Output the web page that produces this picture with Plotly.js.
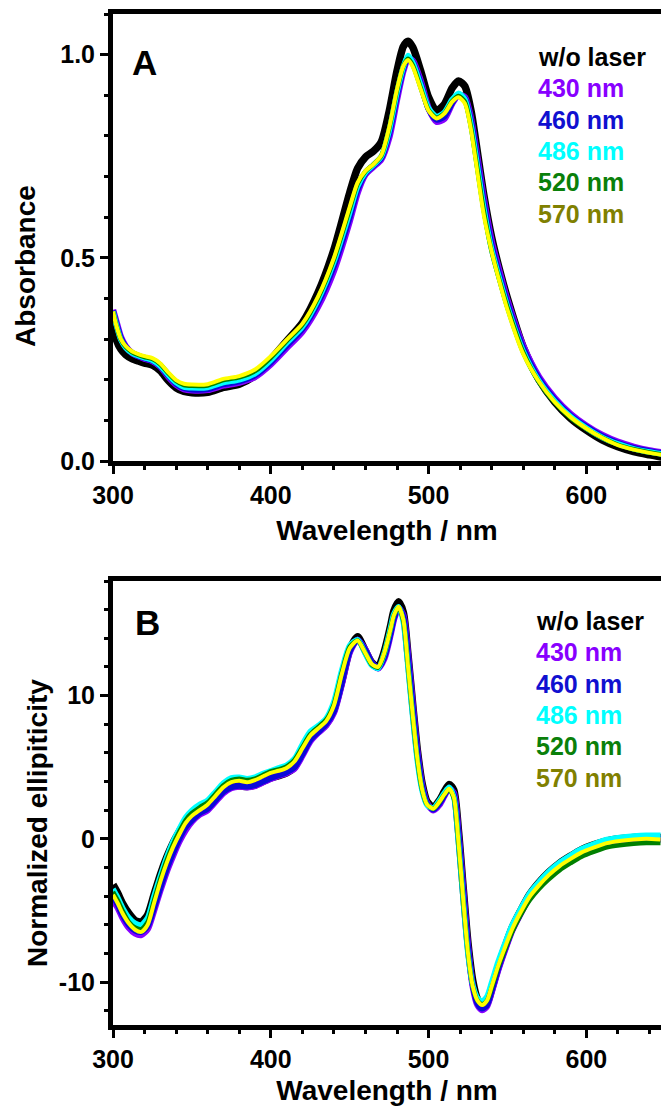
<!DOCTYPE html>
<html><head><meta charset="utf-8">
<script src="https://cdn.plot.ly/plotly-3.0.1.min.js"></script>
<style>html,body{margin:0;padding:0;background:#fff}#chart{width:661px;height:1106px}</style>
</head><body><div id="chart"></div>
<script>
// ---------- series labels / colours ----------
const seriesNames = ['w/o laser', '430 nm', '460 nm', '486 nm', '520 nm', '570 nm'];
const lineColors  = ['#000000', '#8800FF', '#0A0AD8', '#00FFFF', '#008000', '#FFFF00'];
const labelColors = ['#000000', '#8800FF', '#1010D0', '#00FFFF', '#0A800A', '#808000'];

// ---------- panel A : absorbance ----------
const wavelengthA = [300,302,305,308,312,316,320,325,330,335,
  340,345,350,360,370,380,390,400,410,420,
  430,440,450,455,460,465,470,475,480,484,
  487,490,495,500,505,510,515,519,523,527,
  530,535,540,545,550,560,570,580,590,600,
  610,620,630,640,650];
const absWo = [0.340,0.300,0.275,0.262,0.252,0.246,0.241,0.236,0.222,0.198,
  0.180,0.171,0.168,0.169,0.181,0.189,0.210,0.250,0.295,0.340,
  0.415,0.520,0.660,0.720,0.748,0.762,0.785,0.860,0.960,1.020,
  1.033,1.018,0.960,0.895,0.862,0.878,0.918,0.935,0.922,0.860,
  0.785,0.655,0.550,0.470,0.400,0.280,0.200,0.145,0.105,0.076,
  0.052,0.035,0.023,0.015,0.008];
const abs430 = [0.372,0.345,0.305,0.283,0.266,0.258,0.252,0.246,0.232,0.208,
  0.188,0.177,0.174,0.175,0.186,0.193,0.207,0.238,0.278,0.318,
  0.380,0.468,0.590,0.660,0.705,0.724,0.742,0.795,0.890,0.960,
  0.990,0.985,0.935,0.868,0.835,0.842,0.880,0.900,0.895,0.840,
  0.770,0.645,0.540,0.465,0.395,0.283,0.207,0.155,0.116,0.087,
  0.064,0.047,0.035,0.026,0.020];
const abs460 = [0.370,0.340,0.302,0.281,0.266,0.258,0.253,0.247,0.233,0.210,
  0.190,0.179,0.176,0.177,0.189,0.196,0.211,0.243,0.284,0.325,
  0.390,0.480,0.600,0.668,0.708,0.727,0.746,0.805,0.900,0.965,
  0.992,0.982,0.930,0.866,0.840,0.848,0.882,0.902,0.892,0.835,
  0.762,0.635,0.530,0.456,0.388,0.277,0.202,0.151,0.112,0.084,
  0.061,0.044,0.032,0.024,0.018];
const abs486 = [0.368,0.336,0.298,0.279,0.266,0.259,0.254,0.248,0.234,0.212,
  0.193,0.182,0.180,0.181,0.193,0.200,0.215,0.248,0.290,0.330,
  0.397,0.490,0.612,0.676,0.710,0.728,0.749,0.812,0.908,0.970,
  0.998,0.980,0.925,0.868,0.848,0.858,0.890,0.905,0.890,0.825,
  0.750,0.622,0.520,0.448,0.380,0.270,0.197,0.147,0.109,0.081,
  0.058,0.042,0.030,0.022,0.016];
const abs520 = [0.368,0.335,0.299,0.281,0.268,0.261,0.256,0.251,0.238,0.216,
  0.197,0.187,0.185,0.186,0.199,0.206,0.221,0.254,0.295,0.335,
  0.402,0.496,0.620,0.682,0.713,0.730,0.751,0.818,0.913,0.972,
  0.990,0.974,0.918,0.864,0.845,0.856,0.886,0.898,0.884,0.818,
  0.742,0.615,0.515,0.443,0.377,0.267,0.194,0.144,0.106,0.079,
  0.057,0.040,0.029,0.021,0.015];
const abs570 = [0.368,0.335,0.300,0.283,0.270,0.263,0.258,0.253,0.240,0.218,
  0.199,0.190,0.188,0.189,0.202,0.209,0.225,0.258,0.298,0.338,
  0.405,0.500,0.625,0.685,0.714,0.730,0.752,0.820,0.915,0.972,
  0.987,0.970,0.915,0.862,0.843,0.855,0.884,0.895,0.880,0.812,
  0.735,0.605,0.515,0.440,0.372,0.263,0.195,0.145,0.108,0.080,
  0.057,0.039,0.028,0.020,0.014];

// ---------- panel B : normalized ellipticity ----------
const wavelengthB = [300,303,306,310,314,318,322,326,330,334,
  338,342,346,350,355,360,365,370,375,380,
  385,390,395,400,405,410,415,420,425,430,
  435,440,445,450,455,460,464,468,472,476,
  478,481,484,487,490,493,496,499,503,507,
  510,513,516,519,522,525,528,531,534,537,
  540,544,548,553,558,564,570,576,583,590,
  597,605,613,621,630,638,647];
const cdWo = [-3.2,-3.8,-4.5,-5.2,-5.7,-5.8,-5.3,-3.9,-2.5,-1.3,
  -0.3,0.5,1.2,1.6,1.9,2.2,2.8,3.3,3.65,3.7,
  3.65,3.75,4.0,4.25,4.4,4.6,5.0,6.0,7.0,7.5,
  8.0,9.0,11.0,13.2,14.1,13.1,12.3,12.0,13.1,14.9,
  15.9,16.55,15.8,12.8,9.3,6.1,3.8,2.6,2.2,2.7,
  3.3,3.8,3.4,0.5,-3.5,-7.3,-9.9,-11.2,-11.7,-11.5,
  -10.5,-9.0,-7.7,-6.2,-5.1,-3.9,-3.05,-2.35,-1.7,-1.2,
  -0.75,-0.4,-0.15,0.0,0.1,0.15,0.1];
const cd430 = [-4.3,-4.8,-5.5,-6.2,-6.6,-6.7,-6.3,-5.0,-3.6,-2.3,
  -1.2,-0.2,0.6,1.2,1.7,2.0,2.6,3.2,3.55,3.65,
  3.6,3.7,3.95,4.2,4.4,4.6,4.9,5.8,6.8,7.4,
  7.9,8.8,10.8,13.0,13.9,13.2,12.3,11.9,12.6,14.3,
  15.3,16.1,15.6,12.8,9.3,6.0,3.7,2.5,2.0,2.4,
  3.0,3.5,3.2,0.3,-3.6,-7.5,-10.3,-11.6,-11.95,-11.7,
  -10.7,-9.2,-7.9,-6.4,-5.3,-4.1,-3.3,-2.6,-1.95,-1.45,
  -1.0,-0.65,-0.35,-0.2,-0.1,-0.05,-0.05];
const cd460 = [-4.0,-4.6,-5.3,-6.0,-6.4,-6.5,-6.1,-4.8,-3.4,-2.1,
  -1.0,0.0,0.8,1.3,1.8,2.1,2.7,3.3,3.6,3.7,
  3.65,3.75,4.0,4.25,4.45,4.65,5.0,5.9,6.9,7.45,
  8.0,8.9,10.9,13.1,13.9,13.15,12.3,11.9,12.7,14.4,
  15.4,16.15,15.5,12.6,9.1,5.9,3.6,2.45,2.05,2.5,
  3.05,3.55,3.1,0.2,-3.8,-7.6,-10.2,-11.5,-11.85,-11.6,
  -10.6,-9.1,-7.8,-6.35,-5.25,-4.05,-3.25,-2.55,-1.9,-1.4,
  -0.95,-0.6,-0.3,-0.15,-0.05,0.0,0.0];
const cd486 = [-3.5,-4.1,-4.8,-5.5,-5.9,-6.0,-5.5,-4.0,-2.6,-1.3,
  -0.2,0.7,1.5,2.0,2.4,2.7,3.3,3.9,4.25,4.3,
  4.2,4.3,4.55,4.75,4.95,5.15,5.6,6.6,7.5,7.9,
  8.4,9.6,11.8,13.5,13.9,12.9,12.1,11.9,13.0,14.8,
  15.7,16.2,15.1,11.9,8.4,5.3,3.3,2.35,2.15,2.7,
  3.2,3.6,2.9,-0.4,-4.4,-8.1,-10.2,-11.1,-11.35,-11.0,
  -10.0,-8.6,-7.4,-6.0,-4.95,-3.8,-3.0,-2.3,-1.65,-1.15,
  -0.7,-0.35,-0.05,0.1,0.2,0.25,0.25];
const cd520 = [-3.7,-4.3,-5.0,-5.8,-6.2,-6.3,-5.8,-4.3,-2.8,-1.5,
  -0.4,0.5,1.3,1.8,2.2,2.55,3.15,3.75,4.1,4.2,
  4.1,4.2,4.45,4.7,4.85,5.05,5.5,6.4,7.3,7.8,
  8.3,9.4,11.6,13.4,13.85,12.95,12.15,11.95,12.95,14.7,
  15.6,16.15,15.2,12.0,8.5,5.4,3.35,2.4,2.1,2.6,
  3.1,3.45,2.85,-0.4,-4.4,-8.0,-10.3,-11.3,-11.55,-11.3,
  -10.4,-9.0,-7.85,-6.5,-5.4,-4.3,-3.5,-2.85,-2.2,-1.7,
  -1.25,-0.9,-0.6,-0.45,-0.35,-0.3,-0.3];
const cd570 = [-3.9,-4.5,-5.2,-5.9,-6.35,-6.5,-6.0,-4.5,-3.0,-1.7,
  -0.6,0.3,1.1,1.6,2.0,2.4,3.0,3.6,3.95,4.05,
  3.95,4.1,4.35,4.6,4.75,4.95,5.4,6.3,7.2,7.7,
  8.2,9.3,11.5,13.3,13.85,12.95,12.2,12.0,13.0,14.7,
  15.6,16.2,15.3,12.0,8.6,5.5,3.4,2.4,2.1,2.6,
  3.1,3.5,2.9,-0.3,-4.3,-8.0,-10.3,-11.3,-11.6,-11.3,
  -10.3,-8.9,-7.7,-6.3,-5.2,-4.05,-3.25,-2.55,-1.9,-1.4,
  -0.95,-0.6,-0.3,-0.15,-0.05,0.0,-0.05];

// ---------- tick labels ----------
const absTickVals = [0, 0.5, 1.0];
const absTickText = ['0.0', '0.5', '1.0'];
const cdTickVals = [-10, 0, 10];
const cdTickText = ['-10', '0', '10'];
const xTickVals = [300, 400, 500, 600];
const xTickText = ['300', '400', '500', '600'];

const absSeries = [absWo, abs430, abs460, abs486, abs520, abs570];
const cdSeries  = [cdWo, cd430, cd460, cd486, cd520, cd570];
const widths = [7.5, 6.5, 6, 5.5, 4.5, 4];

const W = 661, H = 1106;
const FONT = 'Liberation Sans, Arial, Helvetica, sans-serif';

const traces = [];
absSeries.forEach((ys, i) => traces.push({
  x: wavelengthA, y: ys, type: 'scatter', mode: 'lines', name: seriesNames[i],
  line: {color: lineColors[i], width: widths[i], shape: 'spline', smoothing: 0.7},
  xaxis: 'x', yaxis: 'y', showlegend: false, hoverinfo: 'skip'
}));
cdSeries.forEach((ys, i) => traces.push({
  x: wavelengthB, y: ys, type: 'scatter', mode: 'lines', name: seriesNames[i],
  line: {color: lineColors[i], width: widths[i], shape: 'spline', smoothing: 0.7},
  xaxis: 'x2', yaxis: 'y2', showlegend: false, hoverinfo: 'skip'
}));

const px2x = p => p / W;
const px2y = p => 1 - p / H;

const xCommon = {
  range: [300, 647.3], tickmode: 'array', tickvals: xTickVals, ticktext: xTickText,
  ticks: 'outside', ticklen: 8, tickwidth: 3, tickcolor: '#000',
  minor: {dtick: 20, tick0: 300, ticks: 'outside', ticklen: 4, tickwidth: 3, tickcolor: '#000'},
  showline: true, linewidth: 5, linecolor: '#000', mirror: true,
  showgrid: false, zeroline: false,
  tickfont: {family: FONT, size: 25, color: '#000', weight: 'bold'},
  title: {text: 'Wavelength / nm', font: {family: FONT, size: 28, color: '#000', weight: 'bold'}, standoff: 14},
  domain: [px2x(113), 1]
};
const yCommon = {
  ticks: 'outside', ticklen: 8, tickwidth: 3, tickcolor: '#000',
  showline: true, linewidth: 5, linecolor: '#000', mirror: false,
  showgrid: false, zeroline: false, tickmode: 'array',
  tickfont: {family: FONT, size: 25, color: '#000', weight: 'bold'}
};

const annotations = [];
// y-axis titles
annotations.push({text: 'Absorbance', x: px2x(26), y: px2y(266), xref: 'paper', yref: 'paper',
  xanchor: 'center', yanchor: 'middle', textangle: -90, showarrow: false,
  font: {family: FONT, size: 28, color: '#000', weight: 'bold'}});
annotations.push({text: 'Normalized ellipiticity', x: px2x(37), y: px2y(823), xref: 'paper', yref: 'paper',
  xanchor: 'center', yanchor: 'middle', textangle: -90, showarrow: false,
  font: {family: FONT, size: 28, color: '#000', weight: 'bold'}});
// panel letters
annotations.push({text: 'A', x: px2x(144.5), y: px2y(62.5), xref: 'paper', yref: 'paper',
  xanchor: 'center', yanchor: 'middle', showarrow: false,
  font: {family: FONT, size: 35, color: '#000', weight: 'bold'}});
annotations.push({text: 'B', x: px2x(147.5), y: px2y(622.5), xref: 'paper', yref: 'paper',
  xanchor: 'center', yanchor: 'middle', showarrow: false,
  font: {family: FONT, size: 35, color: '#000', weight: 'bold'}});
// legend text (coloured labels)
const legTopA = 57, legTopB = 621, legStep = 31.3;
seriesNames.forEach((nm, i) => {
  annotations.push({text: nm, x: px2x(536), y: px2y(legTopA + i * legStep), xref: 'paper', yref: 'paper',
    xanchor: 'left', yanchor: 'middle', showarrow: false,
    font: {family: FONT, size: 25, color: labelColors[i], weight: 'bold'}});
  annotations.push({text: nm, x: px2x(534), y: px2y(legTopB + i * legStep), xref: 'paper', yref: 'paper',
    xanchor: 'left', yanchor: 'middle', showarrow: false,
    font: {family: FONT, size: 25, color: labelColors[i], weight: 'bold'}});
});

const layout = {
  width: W, height: H,
  margin: {l: 0, r: 0, t: 0, b: 0},
  paper_bgcolor: '#fff', plot_bgcolor: '#fff',
  showlegend: false,
  xaxis: Object.assign({}, xCommon, {anchor: 'y'}),
  yaxis: Object.assign({}, yCommon, {
    range: [0, 1.1], tickvals: absTickVals, ticktext: absTickText,
    minor: {dtick: 0.1, tick0: 0, ticks: 'outside', ticklen: 4, tickwidth: 3, tickcolor: '#000'},
    domain: [px2y(461), px2y(14)], anchor: 'x'
  }),
  xaxis2: Object.assign({}, xCommon, {anchor: 'y2'}),
  yaxis2: Object.assign({}, yCommon, {
    range: [-13, 18], tickvals: cdTickVals, ticktext: cdTickText,
    minor: {dtick: 2, tick0: 0, ticks: 'outside', ticklen: 4, tickwidth: 3, tickcolor: '#000'},
    domain: [px2y(1025), px2y(581)], anchor: 'x2'
  }),
  annotations: annotations
};

Plotly.newPlot('chart', traces, layout, {staticPlot: true, displayModeBar: false});
</script>
</body></html>
